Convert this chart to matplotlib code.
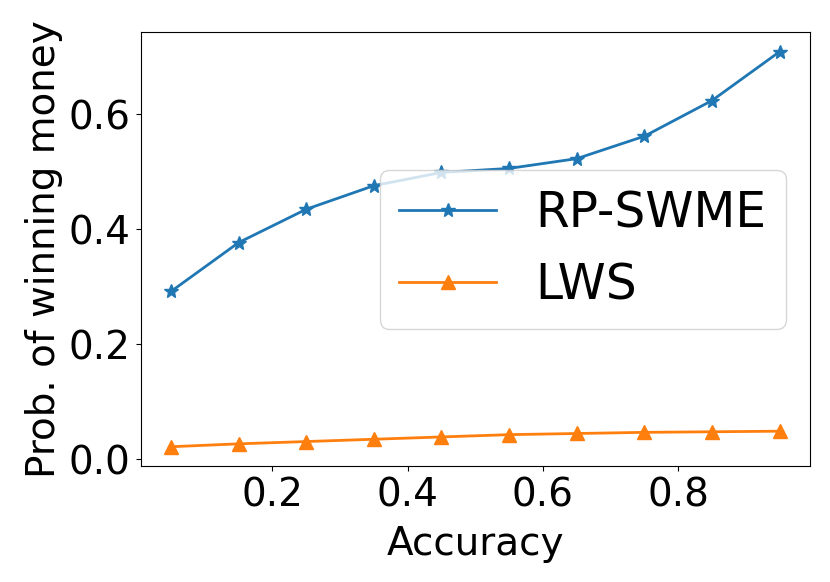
import matplotlib
matplotlib.use("Agg")
import matplotlib.pyplot as plt

accuracy = [0.05, 0.15, 0.25, 0.35, 0.45, 0.55, 0.65, 0.75, 0.85, 0.95]
rp_swme = [0.292, 0.377, 0.435, 0.476, 0.499, 0.506, 0.523, 0.562, 0.624, 0.709]
lws = [0.022, 0.027, 0.031, 0.035, 0.039, 0.043, 0.045, 0.047, 0.048, 0.049]
series_labels = ["RP-SWME", "LWS"]

fig = plt.figure(figsize=(8.3, 5.82), dpi=100)
ax = fig.add_axes([0.1693, 0.1985, 0.8066, 0.7466])
ax.plot(accuracy, rp_swme, marker="*", markersize=10, linewidth=2, color="#1f77b4", label=series_labels[0])
ax.plot(accuracy, lws, marker="^", markersize=10, linewidth=2, color="#ff7f0e", label=series_labels[1])
ax.set_xlabel("Accuracy", fontsize=28, labelpad=8)
ax.set_ylabel("Prob. of winning money", fontsize=28)
ax.set_xticks([0.2, 0.4, 0.6, 0.8])
ax.set_yticks([0.0, 0.2, 0.4, 0.6])
ax.tick_params(labelsize=28)
ax.legend(loc="center right", fontsize=35)
fig.savefig("out.png", dpi=100)
